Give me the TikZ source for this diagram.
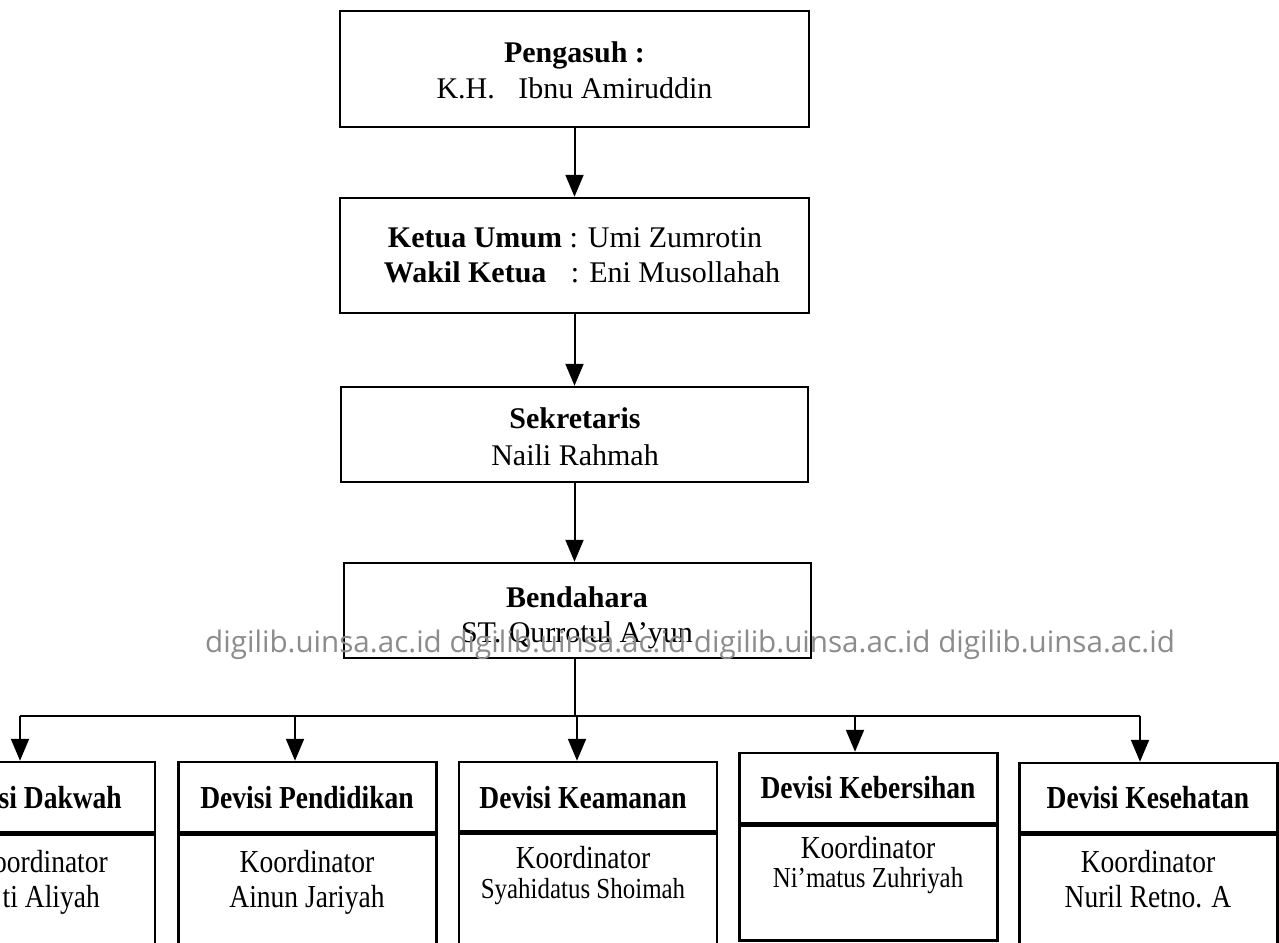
\documentclass[tikz,border=0pt]{standalone}
\usepackage{fontspec}
\setmainfont{Liberation Serif}
\newfontfamily\narrowrm[FakeStretch=0.86]{Liberation Serif}
\newfontfamily\wmfont{Open Sans}
\usetikzlibrary{arrows.meta}
\begin{document}
\begin{tikzpicture}[x=1pt,y=-1pt,
  box/.style={draw,line width=2.5pt,inner sep=0pt},
  conn/.style={line width=2pt,-{Triangle[width=18pt,length=22pt]}},
  plain/.style={line width=2pt},
  toptxt/.style={font=\fontsize{30}{35}\selectfont,anchor=base,inner sep=0pt},
  hdrtxt/.style={font=\narrowrm\bfseries\fontsize{32}{35}\selectfont,anchor=base,inner sep=0pt},
  bodytxt/.style={font=\narrowrm\fontsize{32}{35}\selectfont,anchor=base,inner sep=0pt},
  smalltxt/.style={font=\narrowrm\fontsize{29}{35}\selectfont,anchor=base,inner sep=0pt},
  divbox/.style={box,minimum width=258pt},
  wmark/.style={font=\wmfont\fontsize{29.6}{32}\selectfont,text=black!45,anchor=base west,inner sep=0pt}
]
\useasboundingbox (0,0) rectangle (1279,942);
\clip (0,0) rectangle (1279,942);
\fill[white] (0,0) rectangle (1279,942);

% top chain
\node[box,minimum width=469pt,minimum height=116pt] (peng) at (574.5,69) {};
\node[toptxt] (peng1) at (574.5,63) {\textbf{Pengasuh :}};
\node[toptxt] (peng2) at (574.5,98) {K.H.\hspace{16pt} Ibnu Amiruddin};

\node[box,minimum width=469pt,minimum height=115pt] (ket) at (574.5,255.5) {};
\node[toptxt] (ket1) at (575,247) {\textbf{Ketua Umum} : Umi Zumrotin};
\node[toptxt] (ket2) at (582,282) {\textbf{Wakil Ketua}\hspace{17pt} : Eni Musollahah};

\node[box,minimum width=467pt,minimum height=95pt] (sek) at (574.5,434.5) {};
\node[toptxt] (sek1) at (575,428) {\textbf{Sekretaris}};
\node[toptxt] (sek2) at (575,465) {Naili Rahmah};

\node[box,minimum width=467pt,minimum height=95pt] (bend) at (577.5,610.5) {};
\node[toptxt] (bend1) at (577,607) {\textbf{Bendahara}};
\node[toptxt] (bend2) at (577,642) {ST. Qurrotul A’yun};

\draw[conn] (peng.south) -- (ket.north);
\draw[conn] (ket.south) -- (sek.north);
\draw[conn] (sek.south) -- (sek.south |- bend.north);

% bus
\coordinate (bus) at (575,716);
\coordinate (a1) at (20,716);
\coordinate (a2) at (295,716);
\coordinate (a3) at (577,716);
\coordinate (a4) at (855,716);
\coordinate (a5) at (1140,716);
\draw[plain] (bus |- bend.south) -- (bus);
\draw[plain] (a1) -- (a5);

% divisions: headers
\node[divbox,minimum height=70pt] (h1) at (26,797) {};
\node[divbox,minimum height=70pt] (h2) at (307.5,797) {};
\node[divbox,minimum height=69pt] (h3) at (588,796.5) {};
\node[divbox,minimum height=70pt] (h4) at (868.5,788) {};
\node[divbox,minimum height=69pt] (h5) at (1148.5,797.5) {};
% divisions: bodies
\node[divbox,minimum height=148pt,anchor=north] (d1) at (h1.south) {};
\node[divbox,minimum height=148pt,anchor=north] (d2) at (h2.south) {};
\node[divbox,minimum height=148pt,anchor=north] (d3) at (h3.south) {};
\node[divbox,minimum height=115pt,anchor=north] (d4) at (h4.south) {};
\node[divbox,minimum height=148pt,anchor=north] (d5) at (h5.south) {};

\draw[conn] (a1) -- (a1 |- h1.north);
\draw[conn] (a2) -- (a2 |- h2.north);
\draw[conn] (a3) -- (a3 |- h3.north);
\draw[conn] (a4) -- (a4 |- h4.north);
\draw[conn] (a5) -- (a5 |- h5.north);

% division texts
\node[hdrtxt,anchor=base east] (t1a) at (122,808) {Devisi Dakwah};
\node[bodytxt,anchor=base east] (t1b) at (108,872) {Koordinator};
\node[bodytxt,anchor=base east] (t1c) at (100,907) {ti Aliyah};

\node[hdrtxt] (t2a) at (307,808) {Devisi Pendidikan};
\node[bodytxt] (t2b) at (307,872) {Koordinator};
\node[bodytxt] (t2c) at (307,907) {Ainun Jariyah};

\node[hdrtxt] (t3a) at (583,808) {Devisi Keamanan};
\node[bodytxt] (t3b) at (583,868) {Koordinator};
\node[smalltxt] (t3c) at (583,898) {Syahidatus Shoimah};

\node[hdrtxt] (t4a) at (868,798) {Devisi Kebersihan};
\node[bodytxt] (t4b) at (868,858) {Koordinator};
\node[smalltxt] (t4c) at (868,887) {Ni’matus Zuhriyah};

\node[hdrtxt] (t5a) at (1148,808) {Devisi Kesehatan};
\node[bodytxt] (t5b) at (1148,872) {Koordinator};
\node[bodytxt] (t5c) at (1148,907) {Nuril Retno. A};

% watermark
\node[wmark] (wm) at (205,652) {digilib.uinsa.ac.id digilib.uinsa.ac.id digilib.uinsa.ac.id digilib.uinsa.ac.id};
\end{tikzpicture}
\end{document}
